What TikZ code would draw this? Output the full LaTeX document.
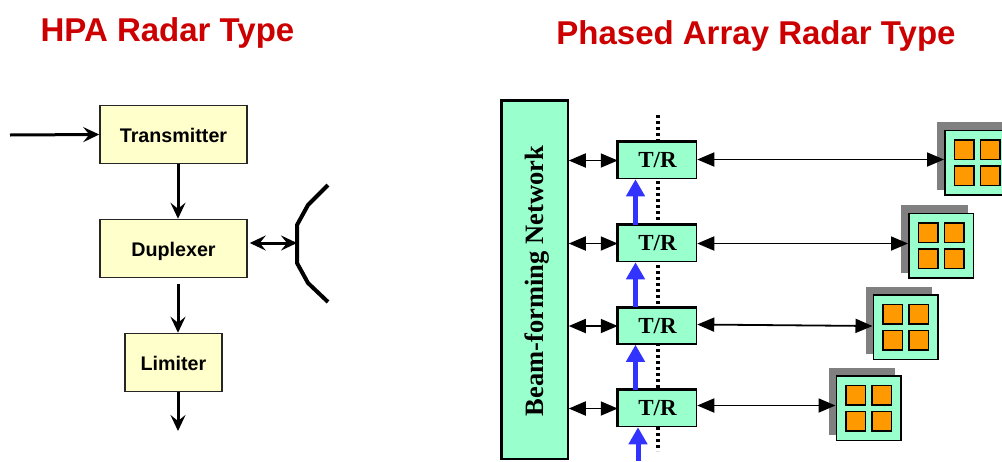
\documentclass[tikz,border=0pt]{standalone}
\usepackage{fontspec}
\setmainfont{Liberation Sans}
\newfontfamily\timesfont{Liberation Serif}
\usetikzlibrary{arrows.meta}
\definecolor{mint}{HTML}{99FFCC}
\definecolor{cream}{HTML}{FFFFCC}
\definecolor{amber}{HTML}{FF9900}
\definecolor{feedblue}{HTML}{3333FF}
\definecolor{titlered}{HTML}{CC0000}
\tikzset{
  title/.style={text=titlered, font=\fontsize{33}{33}\selectfont\bfseries, inner sep=0},
  block/.style={draw=black!85, line width=1.5pt, fill=cream, inner sep=0, text height=15pt, text depth=0pt,
    font=\fontsize{19.7}{20}\selectfont\bfseries},
  trbox/.style={draw, line width=1.5pt, fill=mint, inner sep=0, minimum width=78pt,
    minimum height=36pt, font=\fontsize{23}{23}\selectfont\timesfont\bfseries},
  element/.style={draw, line width=1.5pt, fill=mint, inner sep=0, minimum size=64.5pt},
  patch/.style={draw, line width=1.5pt, fill=amber, inner sep=0, minimum size=19.5pt},
  flow/.style={line width=3pt, -{Stealth[length=16pt,width=15pt,inset=6pt]}},
  link/.style={line width=1.8pt, {Triangle[length=17pt,width=14pt]}-{Triangle[length=17pt,width=14pt]}},
  feed/.style={line width=5pt, feedblue, -{Triangle[length=17pt,width=18pt]}}
}
\begin{document}
\begin{tikzpicture}[x=1pt,y=-1pt]
  \path[use as bounding box, clip] (0,0) rectangle (1002,461);

  \node[title] (hpa) at (167.5,33) {HPA Radar Type};
  \node[title] (phased) at (756,36) {Phased Array Radar Type};

  % left chain
  \node[block, minimum width=147pt, minimum height=58pt] (tx) at (173.5,134.5) {Transmitter};
  \node[block, minimum width=147pt, minimum height=58pt] (dup) at (173.5,248.5) {Duplexer};
  \node[block, minimum width=97pt, minimum height=58pt] (lim) at (173.5,362.5) {Limiter};
  \coordinate (in) at (10,135);
  \coordinate (out) at (178,431);
  \coordinate (dish) at (297,243);
  \draw[flow] (in) -- (tx.west);
  \draw[flow] ([xshift=4.5pt]tx.south) -- ([xshift=4.5pt]dup.north);
  \draw[flow, shorten <=6pt] ([xshift=4.5pt]dup.south) -- ([xshift=4.5pt]lim.north);
  \draw[flow] ([xshift=4.5pt]lim.south) -- (out);
  \draw[line width=3pt, {Stealth[length=16pt,width=15pt,inset=6pt]}-{Stealth[length=16pt,width=15pt,inset=6pt]}]
    ([yshift=5.5pt,xshift=2pt]dup.east) -- (dish);
  \draw[line width=4pt] (328,185) -- (308,205) -- (297,225) -- (297,263) -- (308,283) -- (328,302);

  % phased array
  \draw[line width=4.5pt, dash pattern=on 3pt off 3pt] (658,115) -- (658,451);
  \node[draw, line width=1.5pt, fill=mint, minimum width=66pt, minimum height=357.5pt, inner sep=0] (bfn) at (535,280.25) {};
  \draw[line width=3pt] (bfn.south west) -- (bfn.north west) -- (bfn.north east);
  \node[rotate=90, font=\fontsize{26.5}{26.5}\selectfont\timesfont\bfseries, inner sep=0] (bfnlabel) at (537,281) {Beam-forming Network};

  \foreach \n/\ty/\ex/\ey/\sy/\dy in {1/160.5/977/162.5/1/1, 2/243.5/941/245.5/0/0, 3/326/905.5/327/1.5/0, 4/408.5/868.5/408/3/3} {
    \node[trbox] (tr\n) at (657.5,\ty) {T/R};
    \draw[line width=3pt] (tr\n.south west) -- (tr\n.north west) -- (tr\n.north east);
    \fill[gray] (\ex-40,\ey-40.5) rectangle (\ex+26.7,\ey+27);
    \node[element] (el\n) at (\ex,\ey) {};
    \foreach \i/\px/\py in {1/-13/-13, 2/13/-13, 3/-13/13, 4/13/13} {
      \node[patch] (el\n-\i) at (\ex+\px,\ey+\py) {};
    }
    \draw[link] ([yshift=\sy pt]tr\n.east) -- ([yshift=\dy pt]tr\n.east -| el\n.west);
    \draw[link] (bfn.east |- tr\n.west) -- (tr\n.west);
  }
  \coordinate (src) at (638,461);
  \draw[feed] ([xshift=-22pt]tr2.north) -- ([xshift=-22pt]tr1.south);
  \draw[feed] ([xshift=-22pt]tr3.north) -- ([xshift=-22pt]tr2.south);
  \draw[feed] ([xshift=-22pt]tr4.north) -- ([xshift=-22pt]tr3.south);
  \draw[feed] (src) -- (src |- tr4.south);
\end{tikzpicture}
\end{document}
